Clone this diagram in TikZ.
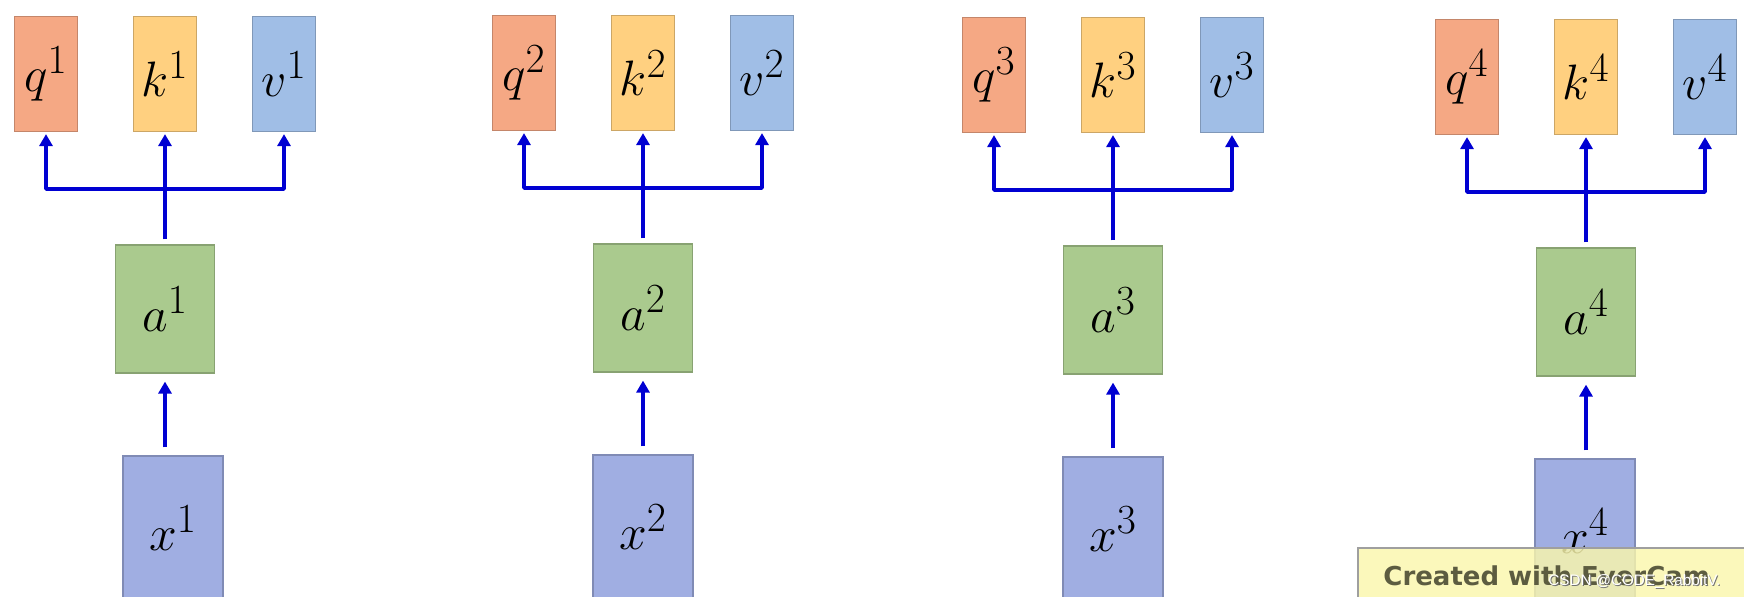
\documentclass[tikz,border=0pt]{standalone}
\usepackage{fontspec}
\usepackage{xcolor}
\usetikzlibrary{arrows.meta, positioning, calc}
\newfontfamily\capfont{DejaVu Sans}
\newfontfamily\wmfont{Liberation Sans}
\definecolor{cq}{RGB}{245,168,132}
\definecolor{ck}{RGB}{255,208,128}
\definecolor{cv}{RGB}{160,190,230}
\definecolor{ca}{RGB}{170,202,142}
\definecolor{cx}{RGB}{160,174,226}
\definecolor{carr}{RGB}{0,0,210}
\definecolor{cbar}{RGB}{250,246,172}
\definecolor{ctxt}{RGB}{92,92,64}

\begin{document}
\begin{tikzpicture}[
  x=0.5pt, y=0.5pt,
  box/.style     = {rectangle, draw=#1!80!black, fill=#1, line width=0.6pt,
                    inner sep=0pt, font=\fontsize{32}{38}\selectfont},
  headbox/.style = {box=#1, minimum width=31.5pt, minimum height=57.5pt},
  abox/.style    = {box=ca, minimum width=49.5pt, minimum height=64pt},
  xbox/.style    = {box=cx, minimum width=50pt, minimum height=72pt},
  arr/.style     = {-{Triangle[width=6.5pt, length=6pt]}, line width=1.8pt, carr},
  stem/.style    = {line width=1.8pt, carr},
]
\useasboundingbox (0,0) rectangle (1744,-597);

%% --- one column per token ---
\foreach \i/\cx/\dy/\xo in {1/165/0/8, 2/643/-1/0, 3/1113/1/0, 4/1586/3/-1} {
  \node[xbox]        (x\i) at (\cx+\xo, -528-\dy) {$x^{\i}$};
  \node[abox]        (a\i) at (\cx, -309-\dy)     {$a^{\i}$};
  \node[headbox=cq]  (q\i) at (\cx-119, -74-\dy)  {$q^{\i}$};
  \node[headbox=ck]  (k\i) at (\cx, -74-\dy)      {$k^{\i}$};
  \node[headbox=cv]  (v\i) at (\cx+119, -74-\dy)  {$v^{\i}$};
  \coordinate        (j\i) at (\cx, -189-\dy);

  \draw[arr, shorten <=4pt, shorten >=4pt] (x\i.north -| a\i.south) -- (a\i.south);
  \draw[stem, shorten <=2.5pt] (a\i) -- (j\i);
  \draw[arr, line join=round, shorten >=1pt] (j\i) -| (q\i);
  \draw[arr, shorten >=1pt] (j\i) -- (k\i);
  \draw[arr, line join=round, shorten >=1pt] (j\i) -| (v\i);
}

%% --- recorder banner ---
\node[anchor=north west, rectangle, draw=gray!75, line width=1pt,
      fill=cbar, fill opacity=0.82, minimum width=200pt, minimum height=30pt]
      (ecbar) at (1357,-547) {};
\node[anchor=base west, inner sep=0pt, text=ctxt,
      font=\capfont\bfseries\fontsize{13}{15}\selectfont]
      (ectxt) at (1383,-586) {Created with EverCam};
\node[anchor=base west, inner sep=0pt, text=black!55,
      font=\wmfont\fontsize{7.6}{9}\selectfont]
      (wmshadow) at (1549,-587) {CSDN @CODE\_RabbitV.};
\node[anchor=base west, inner sep=0pt, text=white,
      font=\wmfont\fontsize{7.6}{9}\selectfont]
      (wm) at (1548,-586) {CSDN @CODE\_RabbitV.};

\end{tikzpicture}
\end{document}
